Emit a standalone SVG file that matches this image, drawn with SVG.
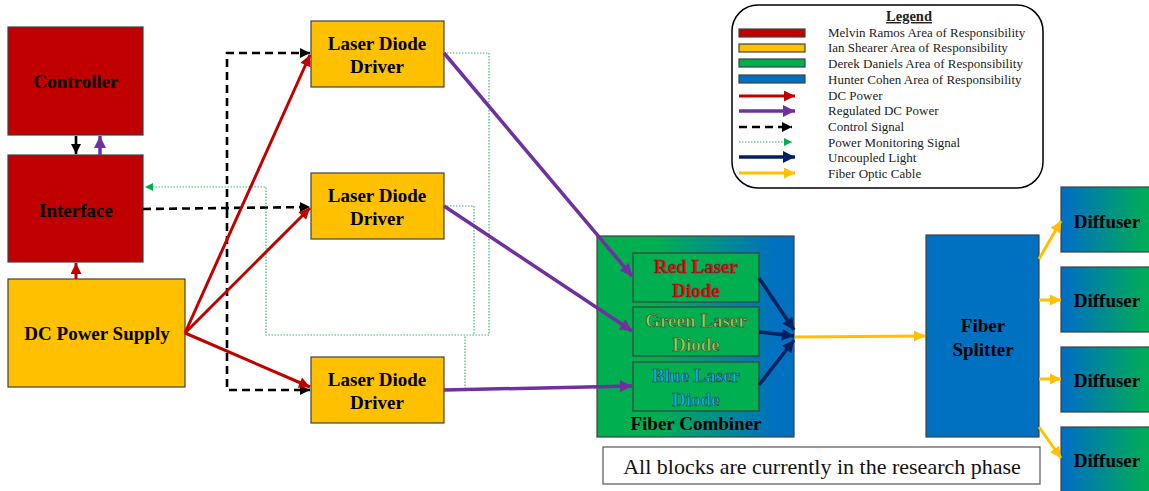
<svg xmlns="http://www.w3.org/2000/svg" width="1149" height="491" viewBox="0 0 1149 491">
  <style>
    .blk { stroke: #404040; stroke-width: 1.2; }
    .red { fill: #C00000; }
    .yel { fill: #FFC000; }
    .grn { fill: #00B050; }
    .blu { fill: #0070C0; }
    .lbl { font-family: "Liberation Serif", "Times New Roman", serif; font-weight: bold; font-size: 19px; fill: #000; text-anchor: middle; }
    .ld { stroke: #3a3a3a; stroke-width: 0.6; }
    .leg { font-family: "Liberation Serif", "Times New Roman", serif; font-size: 13px; fill: #222; }
    .note { font-family: "Liberation Serif", "Times New Roman", serif; font-size: 22px; fill: #111; text-anchor: middle; }
    .pwr { stroke: #C00000; stroke-width: 3; fill: none; }
    .reg { stroke: #7030A0; stroke-width: 3.5; fill: none; }
    .ctl { stroke: #000; stroke-width: 2.6; stroke-dasharray: 8 5; fill: none; }
    .mon { stroke: #3CB371; stroke-width: 1.2; stroke-dasharray: 1.5 1.5; fill: none; }
    .light { stroke: #002060; stroke-width: 3.5; fill: none; }
    .fiber { stroke: #FFC000; stroke-width: 3; fill: none; }
  </style>
  <defs>
    <linearGradient id="combinerFill" x1="0" y1="0" x2="1" y2="0">
      <stop offset="0.3" stop-color="#00B050"/>
      <stop offset="0.9" stop-color="#0070C0"/>
    </linearGradient>
    <linearGradient id="diffuserFill" x1="0" y1="0" x2="1" y2="0">
      <stop offset="0.05" stop-color="#0070C0"/>
      <stop offset="0.9" stop-color="#00B050"/>
    </linearGradient>
    <marker id="hRed" viewBox="0 0 10 10" refX="10" refY="5" markerWidth="12" markerHeight="11" markerUnits="userSpaceOnUse" orient="auto">
      <path d="M0,0 L10,5 L0,10 z" fill="#C00000"/>
    </marker>
    <marker id="hPur" viewBox="0 0 10 10" refX="10" refY="5" markerWidth="13" markerHeight="12" markerUnits="userSpaceOnUse" orient="auto">
      <path d="M0,0 L10,5 L0,10 z" fill="#7030A0"/>
    </marker>
    <marker id="hBlk" viewBox="0 0 10 10" refX="10" refY="5" markerWidth="11" markerHeight="10" markerUnits="userSpaceOnUse" orient="auto">
      <path d="M0,0 L10,5 L0,10 z" fill="#000"/>
    </marker>
    <marker id="hGrn" viewBox="0 0 10 10" refX="10" refY="5" markerWidth="8" markerHeight="8" markerUnits="userSpaceOnUse" orient="auto">
      <path d="M0,0 L10,5 L0,10 z" fill="#00B050"/>
    </marker>
    <marker id="hNav" viewBox="0 0 10 10" refX="10" refY="5" markerWidth="13" markerHeight="12" markerUnits="userSpaceOnUse" orient="auto">
      <path d="M0,0 L10,5 L0,10 z" fill="#002060"/>
    </marker>
    <marker id="hYel" viewBox="0 0 10 10" refX="10" refY="5" markerWidth="12" markerHeight="11" markerUnits="userSpaceOnUse" orient="auto">
      <path d="M0,0 L10,5 L0,10 z" fill="#FFC000"/>
    </marker>
  </defs>

  <rect width="1149" height="491" fill="#fff"/>

  <g id="controller">
    <rect class="blk red" x="8" y="27" width="135" height="108"/>
    <text class="lbl" x="76" y="88">Controller</text>
  </g>
  <g id="interface">
    <rect class="blk red" x="8" y="155" width="135" height="107"/>
    <text class="lbl" x="76" y="217">Interface</text>
  </g>
  <g id="dc-power-supply">
    <rect class="blk yel" x="8" y="279" width="177" height="108"/>
    <text class="lbl" x="97" y="340">DC Power Supply</text>
  </g>

  <g id="ldd-1">
    <rect class="blk yel" x="311" y="21" width="133" height="66"/>
    <text class="lbl" x="377" y="50">Laser Diode</text>
    <text class="lbl" x="377" y="73">Driver</text>
  </g>
  <g id="ldd-2">
    <rect class="blk yel" x="311" y="173" width="133" height="66"/>
    <text class="lbl" x="377" y="202">Laser Diode</text>
    <text class="lbl" x="377" y="225">Driver</text>
  </g>
  <g id="ldd-3">
    <rect class="blk yel" x="311" y="357" width="133" height="66"/>
    <text class="lbl" x="377" y="386">Laser Diode</text>
    <text class="lbl" x="377" y="409">Driver</text>
  </g>

  <g id="fiber-combiner">
    <rect class="blk" x="597" y="236" width="197" height="201" fill="url(#combinerFill)"/>
    <text class="lbl" x="696" y="430">Fiber Combiner</text>
  </g>
  <g id="red-laser-diode">
    <rect class="blk grn" x="633" y="253" width="126" height="49"/>
    <text class="lbl ld" x="696" y="273" style="fill:#FF0000">Red Laser</text>
    <text class="lbl ld" x="696" y="297" style="fill:#FF0000">Diode</text>
  </g>
  <g id="green-laser-diode">
    <rect class="blk grn" x="633" y="307" width="126" height="49"/>
    <text class="lbl ld" x="696" y="327" style="fill:#92D050">Green Laser</text>
    <text class="lbl ld" x="696" y="351" style="fill:#92D050">Diode</text>
  </g>
  <g id="blue-laser-diode">
    <rect class="blk grn" x="633" y="362" width="126" height="49"/>
    <text class="lbl ld" x="696" y="382" style="fill:#00B0F0">Blue Laser</text>
    <text class="lbl ld" x="696" y="406" style="fill:#00B0F0">Diode</text>
  </g>

  <g id="fiber-splitter">
    <rect class="blk blu" x="926" y="235" width="113" height="202"/>
    <text class="lbl" x="983" y="332">Fiber</text>
    <text class="lbl" x="983" y="356">Splitter</text>
  </g>

  <g id="diffuser-1">
    <rect class="blk" x="1061" y="187" width="100" height="65" fill="url(#diffuserFill)"/>
    <text class="lbl" x="1107" y="228">Diffuser</text>
  </g>
  <g id="diffuser-2">
    <rect class="blk" x="1061" y="267" width="100" height="65" fill="url(#diffuserFill)"/>
    <text class="lbl" x="1107" y="307">Diffuser</text>
  </g>
  <g id="diffuser-3">
    <rect class="blk" x="1061" y="347" width="100" height="65" fill="url(#diffuserFill)"/>
    <text class="lbl" x="1107" y="387">Diffuser</text>
  </g>
  <g id="diffuser-4">
    <rect class="blk" x="1061" y="427" width="100" height="70" fill="url(#diffuserFill)"/>
    <text class="lbl" x="1107" y="467">Diffuser</text>
  </g>

  <g id="status-note">
    <rect x="603" y="447" width="437" height="37" fill="#fff" stroke="#555" stroke-width="1.2"/>
    <text class="note" x="822" y="474">All blocks are currently in the research phase</text>
  </g>

  <!-- connectors, drawn above the blocks -->
  <g id="connectors">
    <!-- control signals -->
    <line class="ctl" x1="76" y1="136" x2="76" y2="154" marker-end="url(#hBlk)" stroke-dasharray="3 3"/>
    <line class="ctl" x1="143" y1="209" x2="310" y2="207" marker-end="url(#hBlk)"/>
    <path class="ctl" d="M227,210 V53 H310" marker-end="url(#hBlk)"/>
    <path class="ctl" d="M227,210 V390 H310" marker-end="url(#hBlk)"/>
    <!-- power monitoring -->
    <path class="mon" d="M444,53 H489 V335 H266 V187 H145" marker-end="url(#hGrn)"/>
    <path class="mon" d="M444,206 H474 V335"/>
    <path class="mon" d="M444,389 H465 V335"/>
    <!-- DC power -->
    <line class="pwr" x1="76" y1="279" x2="76" y2="263" marker-end="url(#hRed)"/>
    <line class="pwr" x1="185" y1="333" x2="310" y2="55" marker-end="url(#hRed)"/>
    <line class="pwr" x1="185" y1="333" x2="310" y2="208" marker-end="url(#hRed)"/>
    <line class="pwr" x1="185" y1="333" x2="310" y2="387" marker-end="url(#hRed)"/>
    <!-- regulated DC power -->
    <line class="reg" x1="100" y1="155" x2="100" y2="136" marker-end="url(#hPur)"/>
    <line class="reg" x1="444" y1="53" x2="632" y2="276" marker-end="url(#hPur)"/>
    <line class="reg" x1="444" y1="206" x2="632" y2="331" marker-end="url(#hPur)"/>
    <line class="reg" x1="444" y1="390" x2="632" y2="386" marker-end="url(#hPur)"/>
    <!-- uncoupled light -->
    <line class="light" x1="759" y1="278" x2="794" y2="330" marker-end="url(#hNav)"/>
    <line class="light" x1="759" y1="332" x2="794" y2="336" marker-end="url(#hNav)"/>
    <line class="light" x1="759" y1="385" x2="794" y2="340" marker-end="url(#hNav)"/>
    <!-- fiber optic cable -->
    <line class="fiber" x1="795" y1="337" x2="925" y2="336" marker-end="url(#hYel)"/>
    <line class="fiber" x1="1039" y1="259" x2="1061" y2="221" marker-end="url(#hYel)"/>
    <line class="fiber" x1="1039" y1="300" x2="1061" y2="300" marker-end="url(#hYel)"/>
    <line class="fiber" x1="1039" y1="379" x2="1061" y2="379" marker-end="url(#hYel)"/>
    <line class="fiber" x1="1039" y1="427" x2="1061" y2="458" marker-end="url(#hYel)"/>
  </g>

  <g id="legend">
    <rect x="732" y="5" width="311" height="183" rx="26" ry="26" fill="#fff" stroke="#000" stroke-width="1.5"/>
    <text x="909" y="21" font-family="Liberation Serif, Times New Roman, serif" font-weight="bold" font-size="14.5" text-anchor="middle" text-decoration="underline" fill="#222">Legend</text>
    <rect class="blk red" x="739" y="29" width="66" height="8"/>
    <rect class="blk yel" x="739" y="44" width="66" height="8"/>
    <rect class="blk grn" x="739" y="59" width="66" height="8"/>
    <rect class="blk blu" x="739" y="75" width="66" height="8"/>
    <line class="pwr" x1="739" y1="96" x2="795" y2="96" marker-end="url(#hRed)"/>
    <line class="reg" x1="739" y1="111" x2="795" y2="111" marker-end="url(#hPur)"/>
    <line class="ctl" x1="739" y1="127" x2="792" y2="127" marker-end="url(#hBlk)" stroke-dasharray="6 4"/>
    <line class="mon" x1="739" y1="142" x2="792" y2="142" marker-end="url(#hGrn)" stroke="#00B050"/>
    <line class="light" x1="739" y1="157" x2="795" y2="157" marker-end="url(#hNav)"/>
    <line class="fiber" x1="739" y1="173" x2="795" y2="173" marker-end="url(#hYel)"/>
    <text class="leg" x="828" y="37">Melvin Ramos  Area of Responsibility</text>
    <text class="leg" x="828" y="52">Ian Shearer Area of Responsibility</text>
    <text class="leg" x="828" y="68">Derek Daniels Area of Responsibility</text>
    <text class="leg" x="828" y="84">Hunter Cohen  Area of Responsibility</text>
    <text class="leg" x="828" y="100">DC Power</text>
    <text class="leg" x="828" y="115">Regulated DC Power</text>
    <text class="leg" x="828" y="131">Control Signal</text>
    <text class="leg" x="828" y="147">Power Monitoring  Signal</text>
    <text class="leg" x="828" y="162">Uncoupled Light</text>
    <text class="leg" x="828" y="178">Fiber Optic Cable</text>
  </g>
</svg>
